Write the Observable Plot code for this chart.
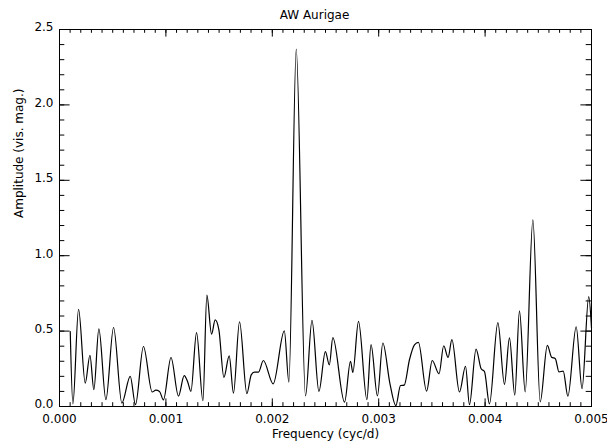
<!DOCTYPE html>
<html><head><meta charset="utf-8">
<script src="https://cdn.jsdelivr.net/npm/d3@7"></script>
<script src="https://cdn.jsdelivr.net/npm/@observablehq/plot@0.6"></script>
<style>body{margin:0;background:#fff}</style>
</head><body><div id="chart"></div>
<script>
const title = "AW Aurigae";
const xLabel = "Frequency (cyc/d)";
const yLabel = "Amplitude (vis. mag.)";

const freq = [
  0.000101, 0.000126, 0.000179, 0.000242, 0.000286, 0.000323, 0.000370, 0.000436, 0.000508, 0.000586,
  0.000665, 0.000714, 0.000789, 0.000871, 0.000905, 0.000940, 0.000977, 0.001048, 0.001118, 0.001172,
  0.001205, 0.001235, 0.001288, 0.001348, 0.001385, 0.001429, 0.001463, 0.001498, 0.001545, 0.001595,
  0.001635, 0.001692, 0.001761, 0.001802, 0.001832, 0.001870, 0.001916, 0.002008, 0.002113, 0.002156,
  0.002225, 0.002312, 0.002373, 0.002438, 0.002499, 0.002536, 0.002569, 0.002679, 0.002735, 0.002757,
  0.002810, 0.002889, 0.002928, 0.002988, 0.003039, 0.003105, 0.003161, 0.003205, 0.003240, 0.003289,
  0.003336, 0.003373, 0.003450, 0.003503, 0.003567, 0.003611, 0.003652, 0.003688, 0.003759, 0.003816,
  0.003853, 0.003915, 0.003963, 0.003994, 0.004041, 0.004120, 0.004182, 0.004229, 0.004279, 0.004323,
  0.004377, 0.004449, 0.004518, 0.004585, 0.004625, 0.004660, 0.004695, 0.004734, 0.004778, 0.004856,
  0.004911, 0.004974, 0.005000
];
const amp = [
  0.497, 0.017, 0.645, 0.155, 0.340, 0.111, 0.515, 0.045, 0.524, 0.023,
  0.200, 0.012, 0.398, 0.096, 0.108, 0.100, 0.044, 0.325, 0.069, 0.205,
  0.163, 0.100, 0.490, 0.038, 0.739, 0.480, 0.574, 0.508, 0.193, 0.336,
  0.089, 0.562, 0.086, 0.210, 0.228, 0.228, 0.305, 0.150, 0.501, 0.162,
  2.370, 0.070, 0.571, 0.100, 0.364, 0.276, 0.457, 0.029, 0.300, 0.226,
  0.564, 0.046, 0.410, 0.070, 0.421, 0.154, 0.006, 0.139, 0.142, 0.310,
  0.409, 0.425, 0.102, 0.305, 0.217, 0.403, 0.325, 0.443, 0.096, 0.267,
  0.012, 0.381, 0.250, 0.232, 0.017, 0.556, 0.147, 0.455, 0.075, 0.634,
  0.097, 1.238, 0.031, 0.406, 0.327, 0.317, 0.229, 0.235, 0.068, 0.529,
  0.119, 0.728, 0.520
];

const xMajor = [0, 0.001, 0.002, 0.003, 0.004, 0.005];
const xMajorLabels = ["0.000", "0.001", "0.002", "0.003", "0.004", "0.005"];
const yMajor = [0, 0.5, 1.0, 1.5, 2.0, 2.5];
const yMajorLabels = ["0.0", "0.5", "1.0", "1.5", "2.0", "2.5"];
const xMinor = d3.range(51).map(i => i / 10000);
const yMinor = d3.range(26).map(i => i / 10);

const W = 607, H = 447, mL = 59, mR = 16, mT = 29, mB = 41;
const fw = W - mL - mR, fh = H - mT - mB;
const data = freq.map((f, i) => ({f, a: amp[i]}));
const font = "'DejaVu Sans', sans-serif";

const chart = Plot.plot({
  width: W, height: H,
  marginLeft: mL, marginRight: mR, marginTop: mT, marginBottom: mB,
  style: {fontFamily: font, fontSize: "12px", background: "#fff", color: "#000", overflow: "visible"},
  x: {domain: [0, 0.005], axis: null},
  y: {domain: [0, 2.5], axis: null},
  marks: [
    Plot.tickX(xMinor, {x: d => d, insetTop: fh - 3.8, stroke: "#000"}),
    Plot.tickX(xMinor, {x: d => d, insetBottom: fh - 3.8, stroke: "#000"}),
    Plot.tickX(xMajor, {x: d => d, insetTop: fh - 7.6, stroke: "#000"}),
    Plot.tickX(xMajor, {x: d => d, insetBottom: fh - 7.6, stroke: "#000"}),
    Plot.tickY(yMinor, {y: d => d, insetRight: fw - 5.3, stroke: "#000"}),
    Plot.tickY(yMinor, {y: d => d, insetLeft: fw - 5.3, stroke: "#000"}),
    Plot.tickY(yMajor, {y: d => d, insetRight: fw - 10.6, stroke: "#000"}),
    Plot.tickY(yMajor, {y: d => d, insetLeft: fw - 10.6, stroke: "#000"}),
    Plot.frame({stroke: "#000"}),
    Plot.text(xMajor, {x: d => d, text: (d, i) => xMajorLabels[i], frameAnchor: "bottom", dy: 16, fill: "#000"}),
    Plot.text(yMajor, {y: d => d, text: (d, i) => yMajorLabels[i], frameAnchor: "left", textAnchor: "end", dx: -6, dy: -2, fill: "#000"}),
    Plot.line(data, {x: "f", y: "a", curve: "monotone-x", stroke: "#000", strokeWidth: 1.2}),
    Plot.text([title], {text: d => d, frameAnchor: "top", dy: -19, dx: -11, fill: "#000"}),
    Plot.text([xLabel], {text: d => d, frameAnchor: "bottom", dy: 31, fill: "#000"}),
    Plot.text([yLabel], {text: d => d, frameAnchor: "left", rotate: -90, dx: -40, fill: "#000"})
  ]
});
document.getElementById("chart").appendChild(chart);
</script>
</body></html>
